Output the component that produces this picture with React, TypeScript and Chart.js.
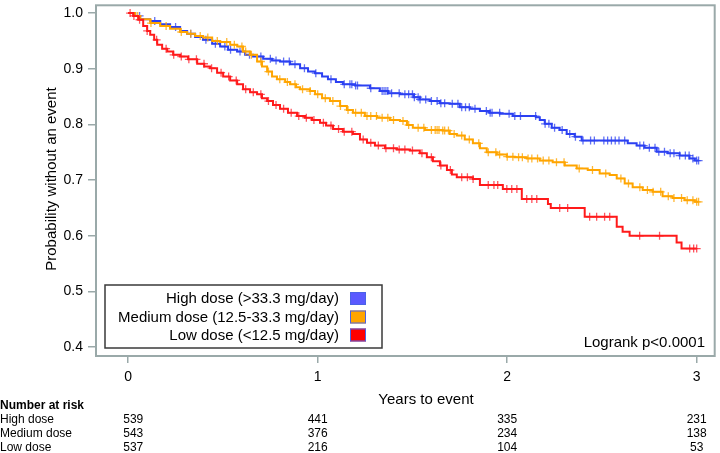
import React, { useEffect, useRef } from 'react';
import { Chart, registerables } from 'chart.js';
Chart.register(...registerables);

const FONT = '"Liberation Sans", Arial, Helvetica, sans-serif';

const seriesNames = ['High dose (>33.3 mg/day)', 'Medium dose (12.5-33.3 mg/day)', 'Low dose (<12.5 mg/day)'];
const riskRowLabels = ['High dose', 'Medium dose', 'Low dose'];
const riskTimes = [0, 1, 2, 3];
const riskHigh = [539, 441, 335, 231];
const riskMedium = [543, 376, 234, 138];
const riskLow = [537, 216, 104, 53];
const xTicks = [0, 1, 2, 3];
const yTicks = [0.4, 0.5, 0.6, 0.7, 0.8, 0.9, 1.0];

const highTimes = [0, 0.037, 0.063, 0.116, 0.169, 0.221, 0.274, 0.311, 0.353, 0.395, 0.443, 0.485, 0.527, 0.575, 0.617, 0.659, 0.712, 0.759, 0.801, 0.854, 0.907, 0.949, 0.986, 1.023, 1.054, 1.096, 1.133, 1.197, 1.276, 1.328, 1.371, 1.434, 1.508, 1.539, 1.592, 1.645, 1.697, 1.75, 1.803, 1.856, 1.908, 1.961, 2.03, 2.151, 2.172, 2.198, 2.235, 2.277, 2.314, 2.356, 2.393, 2.636, 2.683, 2.725, 2.789, 2.847, 2.91, 2.962, 2.99];
const highSurv = [1.0, 0.995, 0.989, 0.986, 0.98, 0.975, 0.968, 0.963, 0.957, 0.952, 0.945, 0.94, 0.934, 0.931, 0.925, 0.922, 0.918, 0.915, 0.913, 0.908, 0.901, 0.895, 0.892, 0.886, 0.881, 0.876, 0.872, 0.87, 0.865, 0.86, 0.856, 0.854, 0.849, 0.845, 0.842, 0.838, 0.837, 0.831, 0.828, 0.824, 0.821, 0.819, 0.815, 0.813, 0.808, 0.801, 0.794, 0.79, 0.783, 0.778, 0.771, 0.766, 0.762, 0.758, 0.751, 0.748, 0.744, 0.739, 0.735];
const highCensor = [0.06, 0.14, 0.25, 0.33, 0.41, 0.46, 0.51, 0.54, 0.59, 0.64, 0.7, 0.75, 0.78, 0.82, 0.85, 0.88, 0.93, 0.99, 1.07, 1.14, 1.17, 1.18, 1.2, 1.21, 1.28, 1.34, 1.35, 1.36, 1.37, 1.39, 1.43, 1.46, 1.48, 1.5, 1.51, 1.53, 1.54, 1.57, 1.6, 1.63, 1.65, 1.67, 1.71, 1.74, 1.76, 1.78, 1.8, 1.83, 1.89, 1.91, 1.92, 1.96, 2.01, 2.04, 2.07, 2.15, 2.2, 2.22, 2.25, 2.29, 2.33, 2.36, 2.4, 2.44, 2.46, 2.51, 2.53, 2.55, 2.57, 2.59, 2.62, 2.7, 2.72, 2.75, 2.78, 2.8, 2.83, 2.86, 2.88, 2.91, 2.94, 2.96, 2.98, 3.0, 3.01];

const medTimes = [0, 0.037, 0.063, 0.116, 0.169, 0.221, 0.274, 0.311, 0.353, 0.395, 0.443, 0.485, 0.538, 0.575, 0.606, 0.643, 0.68, 0.706, 0.733, 0.759, 0.785, 0.828, 0.854, 0.886, 0.907, 0.959, 0.986, 1.023, 1.065, 1.118, 1.154, 1.186, 1.249, 1.313, 1.381, 1.434, 1.471, 1.502, 1.566, 1.66, 1.697, 1.734, 1.776, 1.819, 1.856, 1.892, 1.945, 1.998, 2.04, 2.103, 2.172, 2.24, 2.304, 2.367, 2.425, 2.488, 2.541, 2.578, 2.62, 2.662, 2.715, 2.768, 2.82, 2.873, 2.936, 2.99];
const medSurv = [1.0, 0.995, 0.989, 0.982, 0.977, 0.972, 0.966, 0.963, 0.959, 0.956, 0.95, 0.948, 0.943, 0.94, 0.931, 0.925, 0.913, 0.904, 0.895, 0.886, 0.881, 0.876, 0.872, 0.867, 0.863, 0.86, 0.854, 0.847, 0.842, 0.833, 0.826, 0.821, 0.815, 0.812, 0.808, 0.806, 0.799, 0.794, 0.79, 0.789, 0.783, 0.78, 0.773, 0.766, 0.757, 0.75, 0.746, 0.742, 0.741, 0.739, 0.735, 0.732, 0.726, 0.721, 0.718, 0.712, 0.709, 0.703, 0.694, 0.687, 0.682, 0.679, 0.671, 0.668, 0.664, 0.661];
const medCensor = [0.05, 0.12, 0.2, 0.28, 0.33, 0.38, 0.42, 0.47, 0.52, 0.56, 0.6, 0.62, 0.65, 0.7, 0.74, 0.8, 0.84, 0.88, 0.92, 0.96, 1.0, 1.04, 1.08, 1.12, 1.16, 1.2, 1.23, 1.26, 1.28, 1.31, 1.34, 1.37, 1.4, 1.45, 1.48, 1.53, 1.56, 1.6, 1.62, 1.63, 1.64, 1.66, 1.67, 1.69, 1.72, 1.76, 1.8, 1.85, 1.9, 1.94, 1.96, 2.0, 2.03, 2.06, 2.08, 2.11, 2.13, 2.16, 2.19, 2.22, 2.26, 2.3, 2.38, 2.45, 2.52, 2.6, 2.64, 2.7, 2.74, 2.77, 2.81, 2.85, 2.88, 2.92, 2.95, 2.98, 3.0, 3.01];

const lowTimes = [0, 0.026, 0.053, 0.079, 0.1, 0.116, 0.137, 0.153, 0.179, 0.206, 0.237, 0.274, 0.316, 0.364, 0.401, 0.432, 0.469, 0.501, 0.538, 0.575, 0.606, 0.643, 0.68, 0.706, 0.733, 0.764, 0.801, 0.843, 0.891, 0.933, 0.97, 1.012, 1.044, 1.081, 1.133, 1.186, 1.223, 1.26, 1.302, 1.355, 1.418, 1.487, 1.539, 1.576, 1.608, 1.645, 1.682, 1.708, 1.734, 1.819, 1.856, 1.977, 2.077, 2.215, 2.23, 2.409, 2.578, 2.609, 2.646, 2.894, 2.92];
const lowSurv = [1.0, 0.995, 0.988, 0.977, 0.968, 0.961, 0.952, 0.943, 0.936, 0.931, 0.925, 0.922, 0.917, 0.909, 0.904, 0.901, 0.893, 0.886, 0.879, 0.872, 0.863, 0.858, 0.854, 0.847, 0.842, 0.835, 0.828, 0.821, 0.815, 0.812, 0.808, 0.803, 0.798, 0.792, 0.787, 0.783, 0.773, 0.767, 0.762, 0.757, 0.755, 0.753, 0.748, 0.741, 0.734, 0.726, 0.718, 0.71, 0.705, 0.702, 0.691, 0.684, 0.666, 0.657, 0.65, 0.634, 0.616, 0.607, 0.6, 0.588, 0.577];
const lowCensor = [0.01, 0.03, 0.06, 0.1, 0.15, 0.2, 0.24, 0.28, 0.32, 0.36, 0.4, 0.44, 0.49, 0.53, 0.57, 0.62, 0.66, 0.7, 0.74, 0.78, 0.82, 0.86, 0.9, 0.94, 0.98, 1.03, 1.07, 1.11, 1.14, 1.18, 1.24, 1.28, 1.32, 1.36, 1.4, 1.43, 1.46, 1.5, 1.55, 1.6, 1.65, 1.7, 1.76, 1.79, 1.82, 1.9, 1.93, 1.95, 1.998, 2.024, 2.051, 2.103, 2.13, 2.156, 2.277, 2.319, 2.435, 2.472, 2.514, 2.541, 2.699, 2.804, 2.963, 2.984, 3.0];

const lineColors = ['#2b40f2', '#ffa500', '#ff1a1a'];
const censorColors = ['rgba(43,64,242,0.75)', 'rgba(255,165,0,0.8)', 'rgba(255,26,40,0.75)'];
const swatchFills = ['#5a5aff', '#ffa500', '#ff0000'];

function survAt(times: number[], surv: number[], t: number) {
  let v = surv[0];
  for (let i = 0; i < times.length; i++) {
    if (times[i] <= t) v = surv[i];
    else break;
  }
  return v;
}

function buildLine(times: number[], surv: number[], censor: number[]) {
  const pts = times.map((t, i) => ({ x: t, y: surv[i] }));
  const lastC = censor[censor.length - 1];
  if (lastC > times[times.length - 1]) pts.push({ x: lastC, y: surv[surv.length - 1] });
  return pts;
}

function buildCensor(times: number[], surv: number[], censor: number[]) {
  return censor.map((t) => ({ x: t, y: survAt(times, surv, t) }));
}

export default function App() {
  const ref = useRef<HTMLCanvasElement | null>(null);
  useEffect(() => {
    const canvas = ref.current;
    if (!canvas) return;
    const groups = [
      [highTimes, highSurv, highCensor],
      [medTimes, medSurv, medCensor],
      [lowTimes, lowSurv, lowCensor],
    ];
    const datasets: any[] = [];
    groups.forEach((g, i) => {
      datasets.push({
        type: 'line',
        label: seriesNames[i],
        data: buildLine(g[0], g[1], g[2]),
        stepped: true,
        borderColor: lineColors[i],
        borderWidth: 2,
        pointRadius: 0,
        fill: false,
        order: 3 - i,
      });
      datasets.push({
        type: 'scatter',
        label: seriesNames[i] + ' censored',
        data: buildCensor(g[0], g[1], g[2]),
        pointStyle: 'cross',
        pointRadius: 4,
        borderWidth: 1.3,
        borderColor: censorColors[i],
        backgroundColor: censorColors[i],
        showLine: false,
        order: 3 - i,
      });
    });

    const decor = {
      id: 'kmDecor',
      afterDraw(chart: any) {
        const ctx = chart.ctx;
        const a = chart.chartArea;
        const xs = chart.scales.x;
        ctx.save();
        ctx.strokeStyle = '#9aa9a9';
        ctx.lineWidth = 2;
        ctx.strokeRect(a.left, a.top, a.right - a.left, a.bottom - a.top);
        ctx.fillStyle = '#ffffff';
        ctx.fillRect(105, 285, 277, 63);
        ctx.strokeStyle = '#3a3a3a';
        ctx.lineWidth = 1.5;
        ctx.strokeRect(105, 285, 277, 63);
        ctx.font = '15px ' + FONT;
        ctx.textAlign = 'right';
        ctx.textBaseline = 'middle';
        const rowsY = [299, 317.5, 335.5];
        seriesNames.forEach((n, i) => {
          ctx.fillStyle = '#000';
          ctx.fillText(n, 339, rowsY[i]);
          ctx.fillStyle = swatchFills[i];
          ctx.fillRect(350, rowsY[i] - 7, 16, 13);
          ctx.strokeStyle = '#4a63e6';
          ctx.lineWidth = 1;
          ctx.strokeRect(350.5, rowsY[i] - 6.5, 15, 12);
        });
        ctx.fillStyle = '#000';
        ctx.fillText('Logrank p<0.0001', 705, 343);
        ctx.textAlign = 'center';
        ctx.fillText('Years to event', 426, 400);
        ctx.save();
        ctx.translate(52, 179);
        ctx.rotate(-Math.PI / 2);
        ctx.fillText('Probability without an event', 0, 0);
        ctx.restore();
        ctx.textAlign = 'left';
        ctx.font = 'bold 12px ' + FONT;
        ctx.fillText('Number at risk', 0, 406);
        ctx.font = '12px ' + FONT;
        const rows = [riskHigh, riskMedium, riskLow];
        const ry = [420, 434, 448];
        riskRowLabels.forEach((l, i) => {
          ctx.textAlign = 'left';
          ctx.fillText(l, 0, ry[i]);
          ctx.textAlign = 'center';
          riskTimes.forEach((t, j) => {
            const px = xs.getPixelForValue(t) + (j === 0 ? 5 : 0);
            ctx.fillText(String(rows[i][j]), px, ry[i]);
          });
        });
        ctx.restore();
      },
    };

    const chart = new Chart(canvas, {
      type: 'line',
      data: { datasets },
      options: {
        animation: false,
        responsive: false,
        maintainAspectRatio: false,
        layout: { padding: { top: 3, right: 5, left: 0, bottom: 0 } },
        plugins: { legend: { display: false }, tooltip: { enabled: false }, title: { display: false } },
        scales: {
          x: {
            type: 'linear',
            min: -0.17,
            max: 3.095,
            afterBuildTicks: (s: any) => { s.ticks = xTicks.map((v) => ({ value: v })); },
            afterFit: (s: any) => { s.height = 97; s.paddingLeft = 0; s.paddingRight = 0; s.paddingTop = 0; s.paddingBottom = 0; },
            ticks: { font: { family: FONT, size: 14 }, color: '#000', padding: 6, maxRotation: 0, callback: (v: any) => String(v) },
            grid: { display: true, drawOnChartArea: false, drawTicks: true, tickLength: 7, color: '#9aa9a9', lineWidth: 1.5 },
            border: { display: false },
          },
          y: {
            type: 'linear',
            min: 0.384,
            max: 1.014,
            afterBuildTicks: (s: any) => { s.ticks = yTicks.map((v) => ({ value: v })); },
            afterFit: (s: any) => { s.width = 96; s.paddingTop = 0; s.paddingBottom = 0; s.paddingLeft = 0; s.paddingRight = 0; },
            ticks: { font: { family: FONT, size: 14 }, color: '#000', padding: 5, callback: (v: any) => Number(v).toFixed(1) },
            grid: { display: true, drawOnChartArea: false, drawTicks: true, tickLength: 8, color: '#9aa9a9', lineWidth: 1.5 },
            border: { display: false },
          },
        },
      },
      plugins: [decor],
    } as any);
    return () => chart.destroy();
  }, []);

  return (
    <div style={{ position: 'fixed', left: 0, top: 0, width: 720, height: 453, background: '#fff' }}>
      <canvas ref={ref} width={720} height={453} style={{ width: 720, height: 453, display: 'block' }} />
    </div>
  );
}
